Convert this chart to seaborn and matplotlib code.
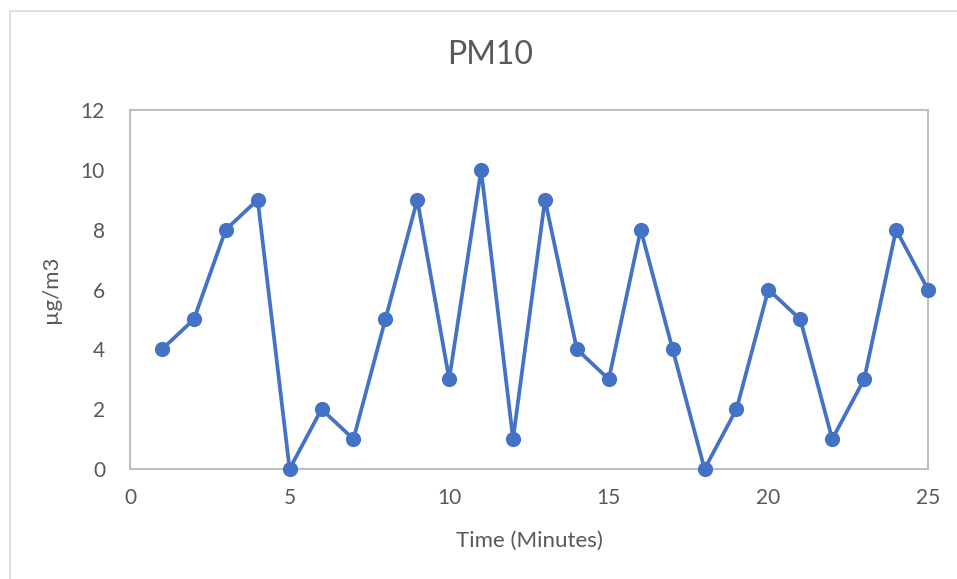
import matplotlib
matplotlib.use("Agg")
import matplotlib.pyplot as plt
from matplotlib.patches import Rectangle
import seaborn as sns
import pandas as pd

minutes = list(range(1, 26))
pm10 = [4, 5, 8, 9, 0, 2, 1, 5, 9, 3, 10, 1, 9, 4, 3, 8, 4, 0, 2, 6, 5, 1, 3, 8, 6]
x_ticks = [0, 5, 10, 15, 20, 25]
y_ticks = [0, 2, 4, 6, 8, 10, 12]

sns.set_theme(style="white")
plt.rcParams["font.family"] = ["Lato", "DejaVu Sans"]

text_color = "#595959"
line_color = "#4472C4"
frame_color = "#bfbfbf"

df = pd.DataFrame({"Time": minutes, "PM10": pm10})

fig = plt.figure(figsize=(9.57, 5.79), dpi=100)
ax = fig.add_axes([130 / 957, 1 - 469 / 579, 798 / 957, 359 / 579])

# connecting line, clipped to the plot area
sns.lineplot(data=df, x="Time", y="PM10", ax=ax, color=line_color,
             linewidth=2.7, zorder=3)
# round markers, drawn over the frame
sns.scatterplot(data=df, x="Time", y="PM10", ax=ax, color=line_color,
                s=120, edgecolor=line_color, linewidth=0, zorder=4, clip_on=False)

ax.set_xlim(0, 25)
ax.set_ylim(0, 12)
ax.set_xticks(x_ticks)
ax.set_yticks(y_ticks)
ax.tick_params(axis="both", length=0, labelsize=15, colors=text_color)
ax.tick_params(axis="x", pad=14)
ax.tick_params(axis="y", pad=18)
for s in ax.spines.values():
    s.set_color(frame_color)
    s.set_linewidth(1.5)
    s.set_zorder(2)

ax.set_xlabel("Time (Minutes)", fontsize=16, color=text_color, labelpad=16)
ax.set_ylabel("µg/m3", fontsize=16, color=text_color, labelpad=14)

fig.text(490 / 957, 1 - 55 / 579, "PM10", ha="center", va="center",
         fontsize=23, color=text_color)

# outer chart border
fig.patches.append(Rectangle((10 / 957, -0.1), 1.2, 1.1 - 11 / 579, transform=fig.transFigure,
                             fill=False, edgecolor="#d9d9d9", linewidth=1.2))

fig.savefig("out.png", dpi=100)
